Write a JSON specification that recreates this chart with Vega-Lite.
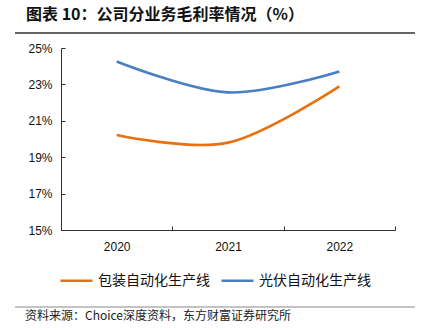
{
  "$schema": "https://vega.github.io/schema/vega-lite/v6.json",
  "width": 334,
  "height": 182,
  "autosize": {"type": "none"},
  "padding": {"left": 61, "top": 48, "right": 26, "bottom": 100},
  "background": "white",
  "title": {
    "text": "图表 10：公司分业务毛利率情况（%）",
    "anchor": "start",
    "frame": "group",
    "dx": -35,
    "offset": 9,
    "font": "Noto Sans CJK SC",
    "fontSize": 16,
    "fontWeight": "bold",
    "color": "#111111"
  },
  "config": {
    "view": {"stroke": null},
    "font": "Liberation Sans"
  },
  "layer": [
    {
      "data": {
        "values": [
          {"year": "2020", "series": "包装自动化生产线", "value": 20.22},
          {"year": "2021", "series": "包装自动化生产线", "value": 19.8},
          {"year": "2022", "series": "包装自动化生产线", "value": 22.89},
          {"year": "2020", "series": "光伏自动化生产线", "value": 24.26},
          {"year": "2021", "series": "光伏自动化生产线", "value": 22.56},
          {"year": "2022", "series": "光伏自动化生产线", "value": 23.71}
        ]
      },
      "mark": {"type": "line", "interpolate": "cardinal", "strokeWidth": 2.6},
      "encoding": {
        "x": {
          "field": "year",
          "type": "ordinal",
          "bandPosition": 0.5,
          "scale": {"type": "band", "paddingInner": 0, "paddingOuter": 0},
          "axis": {
            "title": null,
            "labelAngle": 0,
            "labelFontSize": 12,
            "labelColor": "#111111",
            "labelPadding": 15,
            "domainColor": "#333333",
            "tickColor": "#333333",
            "tickBand": "extent",
            "tickSize": -4,
            "grid": false
          }
        },
        "y": {
          "field": "value",
          "type": "quantitative",
          "scale": {"domain": [15, 25], "nice": false, "zero": false},
          "axis": {
            "title": null,
            "values": [15, 17, 19, 21, 23, 25],
            "labelExpr": "datum.value + '%'",
            "labelFontSize": 12,
            "labelColor": "#111111",
            "labelPadding": 13,
            "domainColor": "#333333",
            "tickColor": "#333333",
            "tickSize": -4,
            "grid": false
          }
        },
        "color": {
          "field": "series",
          "type": "nominal",
          "sort": ["包装自动化生产线", "光伏自动化生产线"],
          "scale": {
            "domain": ["包装自动化生产线", "光伏自动化生产线"],
            "range": ["#E8710F", "#4A7EC2"]
          },
          "legend": {
            "title": null,
            "orient": "none",
            "direction": "horizontal",
            "legendX": -2,
            "legendY": 215,
            "symbolType": "stroke",
            "symbolSize": 1024,
            "symbolStrokeWidth": 2.6,
            "labelFont": "Noto Sans CJK SC",
            "labelFontSize": 14,
            "labelColor": "#111111",
            "labelOffset": 4,
            "columnPadding": 6
          }
        }
      }
    },
    {
      "data": {"values": [{"pos": "top"}]},
      "mark": {"type": "rect", "x": -46, "x2": 354, "y": -15.7, "y2": -14.3, "color": "#333333", "clip": false},
      "encoding": {}
    },
    {
      "data": {"values": [{"pos": "bottom"}]},
      "mark": {"type": "rect", "x": -46, "x2": 354, "y": 258.5, "y2": 259.5, "color": "#888888", "clip": false},
      "encoding": {}
    },
    {
      "data": {"values": [{"source": "资料来源：Choice深度资料，东方财富证券研究所"}]},
      "mark": {
        "type": "text",
        "align": "left",
        "baseline": "middle",
        "font": "Noto Sans CJK SC",
        "fontSize": 12,
        "color": "#222222",
        "clip": false
      },
      "encoding": {
        "text": {"field": "source"},
        "x": {"value": -36},
        "y": {"value": 268}
      }
    }
  ]
}
